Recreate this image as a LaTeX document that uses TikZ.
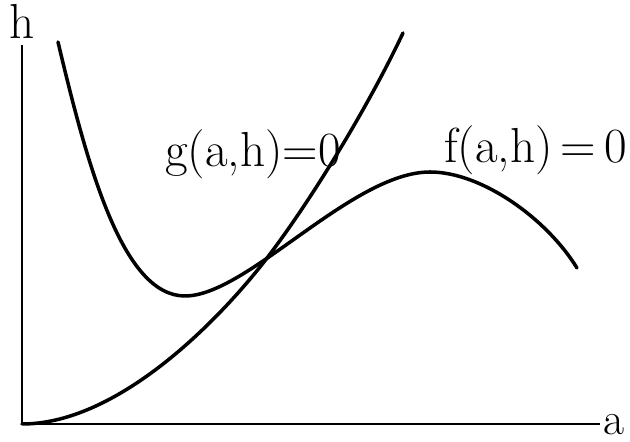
\documentclass[tikz,border=0pt]{standalone}
\usepackage{tikz}
\usetikzlibrary{positioning}

\begin{document}
\begin{tikzpicture}[
    every node/.style={font=\fontsize{28}{30}\selectfont, inner sep=0pt},
    curve/.style={line width=2pt, line join=round, line cap=round},
    axisline/.style={line width=1.4pt}
]
\useasboundingbox (-0.44, -0.36) rectangle (12.16, 8.48);

% === AXES ===
\draw[axisline] (0, 7.58) -- (0, 0) -- (11.56, 0);
\node[anchor=base] (hlabel) at (0.01, 7.70) {h};
\node[anchor=base west, font=\fontsize{26}{28}\selectfont] (alabel) at (11.62, -0.22) {a};

% g(a,h)=0, starts flat at the origin
\draw[curve] (0, 0) .. controls (1.8, 0) and (3.70, 1.82) .. (4.76, 3.14)
    .. controls (5.66, 4.27) and (6.90, 6.29) .. (7.62, 7.82);
\node[anchor=base west] (glabel) at (2.86, 5.14) {g(a,h)=0};

% f(a,h)=0, dip then hump
\draw[curve] (0.72, 7.64) .. controls (1.30, 5.20) and (2.00, 2.56) .. (3.26, 2.56)
    .. controls (4.50, 2.56) and (6.60, 5.04) .. (8.16, 5.04)
    .. controls (9.20, 5.04) and (10.50, 4.10) .. (11.10, 3.12);
\node[anchor=base west] (flabel) at (8.44, 5.22) {f(a,h)\,=\,0};

\end{tikzpicture}
\end{document}
